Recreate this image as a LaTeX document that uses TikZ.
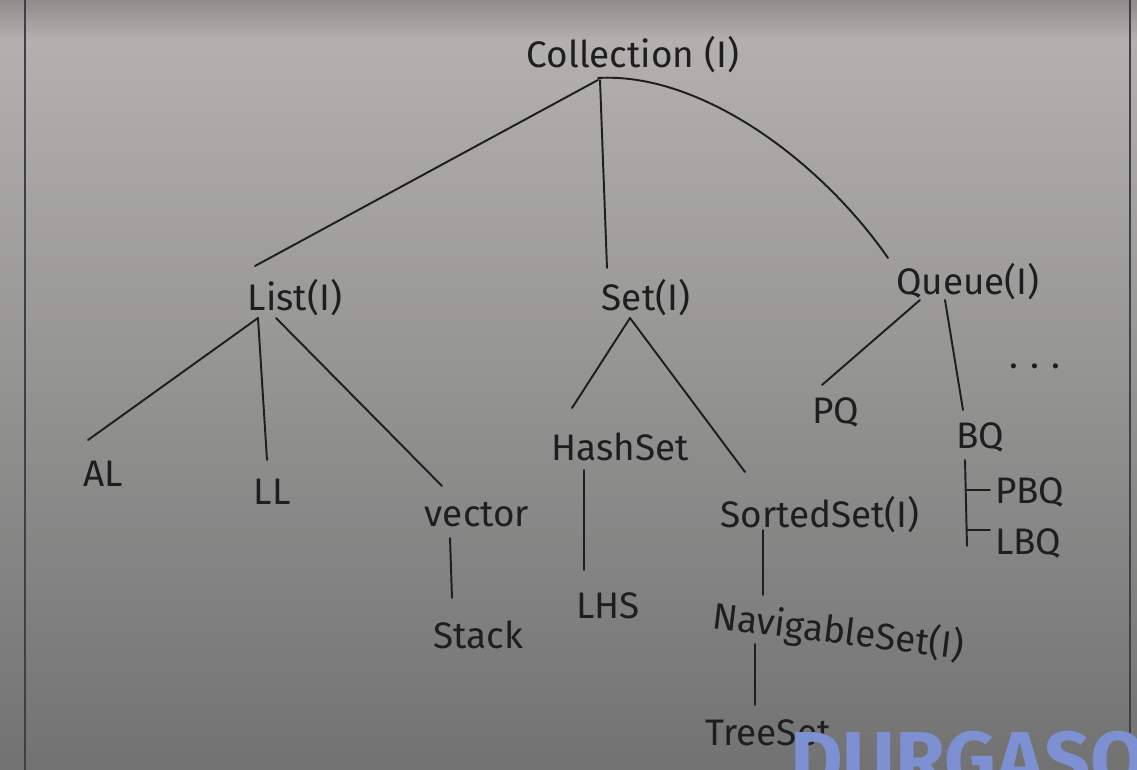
\documentclass[tikz,border=0pt]{standalone}
\usepackage{fontspec}
\setmainfont{Fira Sans}
\usetikzlibrary{calc}
\definecolor{boardtop}{HTML}{B2B1AF}
\definecolor{boardedge}{HTML}{8E8D8C}
\definecolor{boardbot}{HTML}{727272}
\definecolor{ink}{HTML}{1E1E1E}
\definecolor{frame}{HTML}{3F3F45}
\definecolor{wm}{HTML}{7D90D2}
\tikzset{
  lbl/.style={inner sep=1pt, text=ink, font=\fontsize{21}{24}\selectfont},
  conn/.style={draw=ink, line width=1.1pt, line cap=round, line join=round},
}
\begin{document}
\begin{tikzpicture}[x=0.02cm, y=-0.02cm]
\useasboundingbox (0,0) rectangle (1137,770);
\shade[top color=boardtop, bottom color=boardbot] (0,40) rectangle (1137,770);
\shade[top color=boardedge, bottom color=boardtop] (0,0) rectangle (1137,40);
\draw[frame, line width=1.2pt] (25,0) -- (25,770);
\draw[frame, line width=1.2pt] (1130,0) -- (1130,770);

\node[lbl] (coll) at (633,55) {Collection (I)};
\node[lbl] (list) at (295,298) {List(I)};
\node[lbl] (set) at (646,298) {Set(I)};
\node[lbl] (queue) at (968,282) {Queue(I)};
\node[lbl] (al) at (103,474) {AL};
\node[lbl] (ll) at (272,492) {LL};
\node[lbl] (vec) at (477,515) {vector};
\node[lbl] (stack) at (478,635) {Stack};
\node[lbl] (hash) at (620,447) {HashSet};
\node[lbl] (lhs) at (608,606) {LHS};
\node[lbl] (sorted) at (820,515) {SortedSet(I)};
\node[lbl, rotate=-7] (nav) at (838,632) {NavigableSet(I)};
\node[lbl] (tree) at (768,733) {TreeSet};
\node[lbl] (pq) at (836,412) {PQ};
\node[lbl] (bq) at (980,437) {BQ};
\node[lbl, anchor=west] (pbq) at (993,492) {PBQ};
\node[lbl, anchor=west] (lbq) at (993,543) {LBQ};
\node[lbl] (more) at (1035,366) {.\,\,.\,\,.};

% Collection
\draw[conn] ($(coll)+(-35,25)$) -- ($(list)+(-40,-32)$);
\draw[conn] ($(coll)+(-33,25)$) -- ($(set)+(-39,-30)$);
\draw[conn] ($(coll)+(-35,23)$) .. controls ($(coll)+(67,17)$) and ($(coll)+(187,105)$) .. ($(queue)+(-80,-24)$);
% List
\draw[conn] ($(list)+(-37,20)$) -- ($(al)+(-15,-34)$);
\draw[conn] ($(list)+(-37,20)$) -- ($(ll)+(-5,-32)$);
\draw[conn] ($(list)+(-19,20)$) -- ($(vec)+(-35,-29)$);
\draw[conn] ($(vec)+(-27,23)$) -- ($(stack)+(-26,-37)$);
% Set
\draw[conn] ($(set)+(-16,20)$) -- ($(hash)+(-48,-39)$);
\draw[conn] ($(set)+(-16,20)$) -- ($(sorted)+(-75,-43)$);
\draw[conn] ($(hash)+(-36,23)$) -- ($(lhs)+(-24,-36)$);
\draw[conn] ($(sorted)+(-57,15)$) -- ($(nav)+(-75,-37)$);
\draw[conn] ($(nav)+(-83,12)$) -- ($(tree)+(-13,-28)$);
% Queue
\draw[conn] ($(queue)+(-48,18)$) -- ($(pq)+(-14,-27)$);
\draw[conn] ($(queue)+(-23,18)$) -- ($(bq)+(-17,-27)$);
\draw[conn] ($(bq)+(-15,23)$) -- ($(lbq.west)+(-26,3)$);
\draw[conn] ($(pbq.west)+(-26,-2)$) -- ($(pbq.west)+(-3,-2)$);
\draw[conn] ($(lbq.west)+(-26,-13)$) -- ($(lbq.west)+(-3,-13)$);

% watermark
\begin{scope}
\clip (0,0) rectangle (1137,770);
\node[anchor=north west, inner sep=0pt, text=wm, font=\fontsize{46}{48}\bfseries\selectfont] (wmark) at (790,731) {DURGASO};
\end{scope}
\end{tikzpicture}
\end{document}
